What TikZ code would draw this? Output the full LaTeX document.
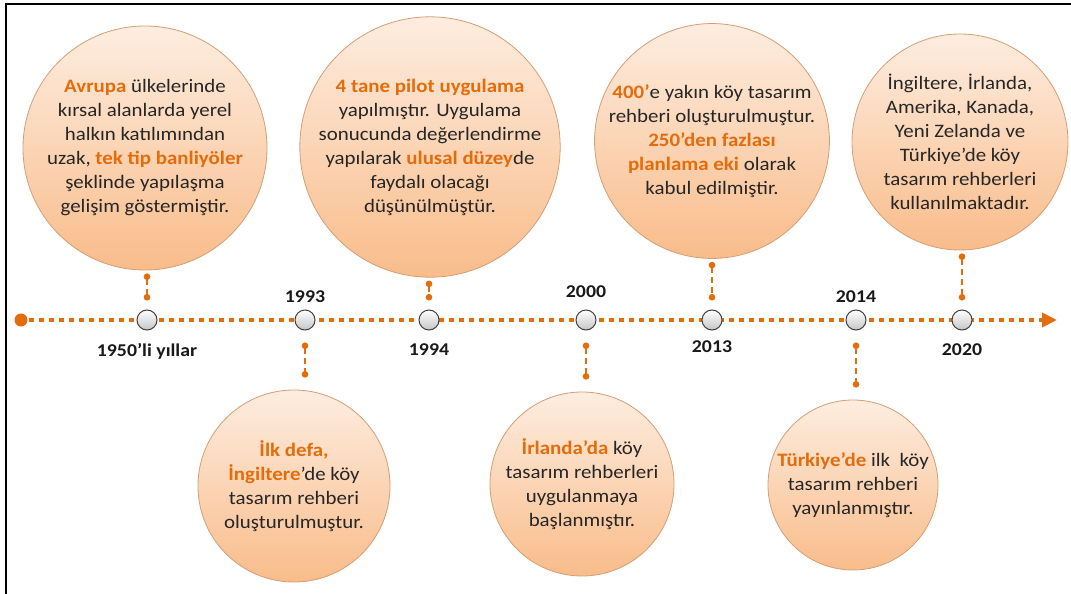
\documentclass[tikz,border=0pt]{standalone}
\usepackage{fontspec}
\setmainfont{Carlito}[FakeStretch=1.1]
\usepackage{xcolor}
\usetikzlibrary{arrows.meta, positioning}

\definecolor{accent}{HTML}{E46C0A}
\definecolor{peachtop}{RGB}{253,237,224}
\definecolor{peachbot}{RGB}{249,188,138}
\definecolor{rimcol}{RGB}{212,158,116}
\newcommand{\hl}[1]{\textbf{\color{accent}#1}}

\tikzset{
	bubble/.style={circle, draw=rimcol, line width=.8pt, top color=peachtop, bottom color=peachbot, inner sep=0pt, align=center, text=black!85, font=\fontsize{19}{24}\selectfont},
	yearpt/.style={circle, draw=black!75, line width=1pt, top color=white, bottom color=gray!45, minimum size=20pt, inner sep=0pt},
	conn/.style={accent, line width=2pt, dash pattern=on 6pt off 4pt, {Circle[length=6.5pt]}-{Circle[length=6.5pt]}},
	year/.style={inner sep=0pt, text=black!90, font=\fontsize{18}{20}\selectfont\bfseries}
}

\begin{document}
\begin{tikzpicture}[x=1pt, y=-1pt]
				
				% Frame
				\useasboundingbox (0,0) rectangle (1071,594);
				\draw[line width=2.5pt] (6,594) -- (6,4) -- (1071,4);
				
				% Time axis
				\coordinate (tstart) at (21,320);
				\coordinate (tend) at (1057,320);
				\fill[accent] (tstart) circle (6.5);
				\draw[accent, line width=4.5pt, dash pattern=on 5pt off 5pt, -{Triangle[length=15pt, width=14pt]}] ([xshift=8pt]tstart) -- (tend);
				
				% Years on the axis
				\foreach \x/\n in {147/n1, 305/n2, 429/n3, 586/n4, 712/n5, 856/n6, 962/n7} {
					\node[yearpt] (\n) at (\x,320) {};
				}
				\node[year, below=13pt of n1] {1950’li yıllar};
				\node[year, above=7pt of n2] {1993};
				\node[year, below=13pt of n3] {1994};
				\node[year, above=12pt of n4] {2000};
				\node[year, below=10pt of n5] {2013};
				\node[year, above=7pt of n6] {2014};
				\node[year, below=13pt of n7] {2020};
				
				% Bubbles
				\node[bubble, minimum size=244pt] (c1) at (145,148) {\hl{Avrupa} ülkelerinde\\ kırsal alanlarda yerel\\ halkın katılımından\\ uzak, \hl{tek tip banliyöler}\\ şeklinde yapılaşma\\ gelişim göstermiştir.};
				\node[bubble, minimum size=246pt] (c2) at (430,147) {\hl{4 tane pilot uygulama}\\ yapılmıştır. Uygulama\\ sonucunda değerlendirme\\ yapılarak \hl{ulusal düzey}de\\ faydalı olacağı\\ düşünülmüştür.};
				\node[bubble, minimum size=226pt] (c3) at (712,141) {\hl{400’}e yakın köy tasarım\\ rehberi oluşturulmuştur.\\ \hl{250’den fazlası}\\ \hl{planlama eki} olarak\\ kabul edilmiştir.};
				\node[bubble, minimum size=216pt] (c4) at (960,142) {İngiltere, İrlanda,\\ Amerika, Kanada,\\ Yeni Zelanda ve\\ Türkiye’de köy\\ tasarım rehberleri\\ kullanılmaktadır.};
				\node[bubble, minimum size=192pt] (c5) at (294,486) {\hl{İlk defa,}\\ \hl{İngiltere}’de köy\\ tasarım rehberi\\ oluşturulmuştur.};
				\node[bubble, minimum size=184pt] (c6) at (582,484) {\hl{İrlanda’da} köy\\ tasarım rehberleri\\ uygulanmaya\\ başlanmıştır.};
				\node[bubble, minimum size=170pt] (c7) at (853,485) {\hl{Türkiye’de} ilk\ \ köy\\ tasarım rehberi\\ yayınlanmıştır.};
				
				% Links
				\foreach \c/\n in {c1/n1, c2/n3, c3/n5, c4/n7} {
					\draw[conn, shorten <=3pt, shorten >=9pt] (\n |- \c.south) -- (\n.north);
				}
				\foreach \c/\n in {c5/n2, c6/n4, c7/n6} {
					\draw[conn, shorten <=12pt, shorten >=12pt] (\n.south) -- (\n |- \c.north);
				}
			\end{tikzpicture}
\end{document}
